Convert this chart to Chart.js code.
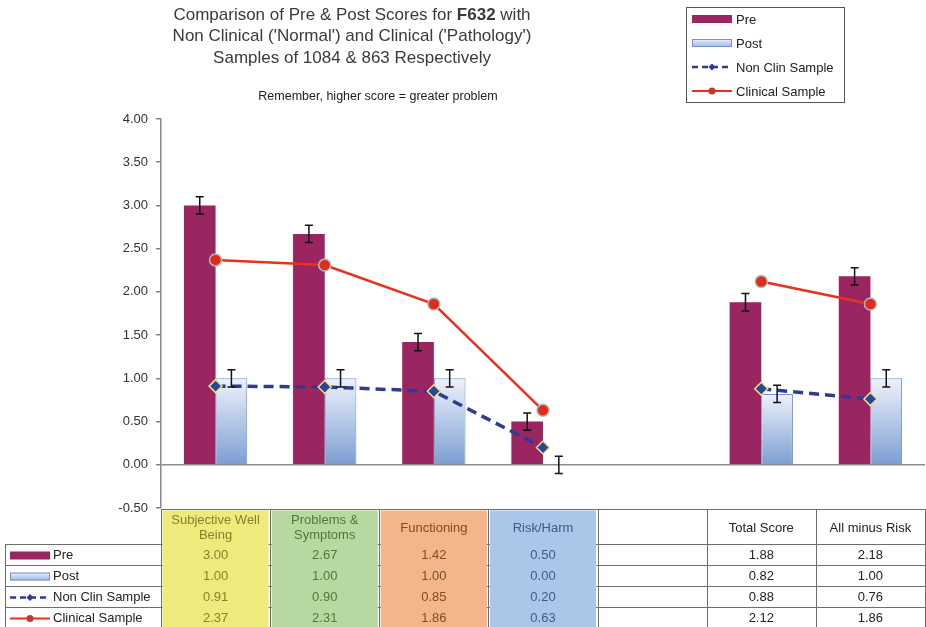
<!DOCTYPE html>
<html>
<head>
<meta charset="utf-8">
<script src="https://cdn.jsdelivr.net/npm/chart.js@4.4.1/dist/chart.umd.min.js"></script>
<style>
  html, body { margin: 0; padding: 0; background: #fff; }
  canvas { display: block; }
</style>
</head>
<body>
<canvas id="chart" width="926" height="627"></canvas>
<script>
// Chart data
const categories = ['Subjective Well Being', 'Problems & Symptoms', 'Functioning', 'Risk/Harm', '', 'Total Score', 'All minus Risk'];
const preScores = [3.00, 2.67, 1.42, 0.50, null, 1.88, 2.18];
const postScores = [1.00, 1.00, 1.00, 0.00, null, 0.82, 1.00];
const nonClinSample = [0.91, 0.90, 0.85, 0.20, null, 0.88, 0.76];
const clinicalSample = [2.37, 2.31, 1.86, 0.63, null, 2.12, 1.86];
const preErrors = [0.10, 0.10, 0.10, 0.10, null, 0.10, 0.10];
const postErrors = [0.10, 0.10, 0.10, 0.10, null, 0.10, 0.10];
const seriesNames = ['Pre', 'Post', 'Non Clin Sample', 'Clinical Sample'];
const titleLines = [
  ['Comparison of Pre & Post Scores for ', 'F632', ' with'],
  ["Non Clinical ('Normal') and Clinical ('Pathology')"],
  ['Samples of 1084 & 863 Respectively']
];
const subTitle = 'Remember, higher score = greater problem';

// Styles
const FONT = '"Liberation Sans", Arial, sans-serif';
const PRE_COLOR = '#9a2560';
const POST_BORDER = '#7393cc';
const NONCLIN_COLOR = '#2e3a94';
const CLIN_COLOR = '#e8321e';
const colFill = ['#eeeb7d', '#b7d8a1', '#f3b68a', '#aac6e9', null, null, null];
const colText = ['#85822a', '#4f7a35', '#874a1c', '#3d5c8c', '#222', '#222', '#222'];
const keyTypes = ['pre', 'post', 'nonclin', 'clin'];

function postGradient(chart, top, base) {
  const g = chart.ctx.createLinearGradient(0, top, 0, base);
  g.addColorStop(0, '#eef2fa');
  g.addColorStop(1, '#7c9ed3');
  return g;
}

// Draw a legend key (same look in the legend box and in the table)
function drawKey(ctx, type, x, y, w) {
  ctx.save();
  if (type === 'pre') {
    ctx.fillStyle = PRE_COLOR;
    ctx.fillRect(x, y - 4, w, 8);
  } else if (type === 'post') {
    const g = ctx.createLinearGradient(0, y - 4, 0, y + 4);
    g.addColorStop(0, '#e8eef9');
    g.addColorStop(1, '#9fb9e2');
    ctx.fillStyle = g;
    ctx.fillRect(x, y - 4, w, 8);
    ctx.strokeStyle = POST_BORDER;
    ctx.lineWidth = 1;
    ctx.strokeRect(x + 0.5, y - 3.5, w - 1, 7);
  } else if (type === 'nonclin') {
    ctx.strokeStyle = NONCLIN_COLOR;
    ctx.lineWidth = 2.5;
    ctx.setLineDash([6, 4]);
    ctx.beginPath();
    ctx.moveTo(x, y);
    ctx.lineTo(x + w, y);
    ctx.stroke();
    ctx.setLineDash([]);
    ctx.fillStyle = NONCLIN_COLOR;
    ctx.beginPath();
    ctx.moveTo(x + w / 2, y - 3.5);
    ctx.lineTo(x + w / 2 + 3.5, y);
    ctx.lineTo(x + w / 2, y + 3.5);
    ctx.lineTo(x + w / 2 - 3.5, y);
    ctx.closePath();
    ctx.fill();
  } else {
    ctx.strokeStyle = CLIN_COLOR;
    ctx.lineWidth = 2;
    ctx.beginPath();
    ctx.moveTo(x, y);
    ctx.lineTo(x + w, y);
    ctx.stroke();
    ctx.fillStyle = '#c0392b';
    ctx.beginPath();
    ctx.arc(x + w / 2, y, 3.5, 0, Math.PI * 2);
    ctx.fill();
  }
  ctx.restore();
}

function wrapText(ctx, text, maxW) {
  const words = text.split(' ');
  const lines = [];
  let cur = '';
  words.forEach(wd => {
    const test = cur ? cur + ' ' + wd : wd;
    if (ctx.measureText(test).width > maxW && cur) {
      lines.push(cur);
      cur = wd;
    } else {
      cur = test;
    }
  });
  if (cur) lines.push(cur);
  return lines;
}

const extras = {
  id: 'extras',
  beforeDraw(chart) {
    const ctx = chart.ctx;
    ctx.save();
    ctx.fillStyle = '#fff';
    ctx.fillRect(0, 0, chart.width, chart.height);
    ctx.restore();
  },
  afterDatasetsDraw(chart) {
    // error bars on the two bar series
    const ctx = chart.ctx;
    const y = chart.scales.y;
    const errs = [preErrors, postErrors];
    ctx.save();
    ctx.strokeStyle = '#111';
    ctx.lineWidth = 1.5;
    [0, 1].forEach(di => {
      const meta = chart.getDatasetMeta(di);
      meta.data.forEach((bar, i) => {
        const v = chart.data.datasets[di].data[i];
        const e = errs[di][i];
        if (v === null || e === null) return;
        const x = bar.x;
        const y1 = y.getPixelForValue(v + e);
        const y2 = y.getPixelForValue(v - e);
        ctx.beginPath();
        ctx.moveTo(x, y1); ctx.lineTo(x, y2);
        ctx.moveTo(x - 4, y1); ctx.lineTo(x + 4, y1);
        ctx.moveTo(x - 4, y2); ctx.lineTo(x + 4, y2);
        ctx.stroke();
      });
    });
    ctx.restore();
  },
  afterDraw(chart) {
    const ctx = chart.ctx;
    const area = chart.chartArea;
    const xs = chart.scales.x;
    ctx.save();

    // Title with bold chart code
    ctx.fillStyle = '#3a3a3a';
    ctx.textBaseline = 'middle';
    titleLines.forEach((parts, li) => {
      const fonts = parts.map((p, pi) => (pi === 1 ? 'bold ' : '') + '17px ' + FONT);
      let total = 0;
      parts.forEach((p, pi) => { ctx.font = fonts[pi]; total += ctx.measureText(p).width; });
      let x = 352 - total / 2;
      parts.forEach((p, pi) => {
        ctx.font = fonts[pi];
        ctx.textAlign = 'left';
        ctx.fillText(p, x, 15 + li * 21.5);
        x += ctx.measureText(p).width;
      });
    });
    ctx.font = '12.5px ' + FONT;
    ctx.fillStyle = '#222';
    ctx.textAlign = 'center';
    ctx.fillText(subTitle, 378, 97);

    // Legend box
    ctx.strokeStyle = '#555';
    ctx.lineWidth = 1;
    ctx.strokeRect(686.5, 7.5, 158, 95);
    ctx.font = '13px ' + FONT;
    ctx.fillStyle = '#222';
    ctx.textAlign = 'left';
    seriesNames.forEach((name, i) => {
      const yy = 19 + i * 24;
      drawKey(ctx, keyTypes[i], 692, yy, 40);
      ctx.fillText(name, 736, yy + 1);
    });

    // Data table under the plot
    const n = categories.length;
    const catW = (area.right - area.left) / n;
    const top = area.bottom + 1;
    const headBottom = top + 35;
    const rowH = 21;
    const bottom = headBottom + rowH * 4;
    const colLeft = i => xs.getPixelForValue(i) - catW / 2;

    ctx.strokeStyle = '#6e6e6e';
    ctx.lineWidth = 1;
    ctx.beginPath();
    ctx.moveTo(area.left, top + 0.5); ctx.lineTo(area.right, top + 0.5);
    for (let r = 0; r <= 3; r++) {
      const yy = Math.round(headBottom + r * rowH) + 0.5;
      ctx.moveTo(5, yy); ctx.lineTo(area.right, yy);
    }
    ctx.stroke();

    colFill.forEach((c, i) => {
      if (!c) return;
      ctx.fillStyle = c;
      ctx.fillRect(colLeft(i) + 1.5, top + 1.5, catW - 3, bottom - top);
    });

    ctx.beginPath();
    ctx.moveTo(5.5, headBottom); ctx.lineTo(5.5, bottom);
    for (let i = 0; i <= n; i++) {
      const xx = Math.round(area.left + i * catW) + 0.5;
      ctx.moveTo(xx, top); ctx.lineTo(xx, bottom);
    }
    ctx.stroke();

    // header labels
    ctx.textAlign = 'center';
    ctx.font = '13px ' + FONT;
    categories.forEach((cat, i) => {
      if (!cat) return;
      const cx = xs.getPixelForValue(i);
      const lines = wrapText(ctx, cat, catW - 10);
      ctx.fillStyle = colText[i];
      const cy = (top + headBottom) / 2 + 1.5;
      lines.forEach((ln, li) => {
        ctx.fillText(ln, cx, cy + (li - (lines.length - 1) / 2) * 15);
      });
    });

    // rows
    chart.data.datasets.forEach((ds, r) => {
      const cy = headBottom + r * rowH + rowH / 2 + 1;
      drawKey(ctx, keyTypes[r], 10, cy, 40);
      ctx.fillStyle = '#222';
      ctx.textAlign = 'left';
      ctx.font = '13px ' + FONT;
      ctx.fillText(ds.label, 53, cy);
      ctx.textAlign = 'center';
      ctx.font = '13px ' + FONT;
      ds.data.forEach((v, i) => {
        if (v === null) return;
        ctx.fillStyle = colText[i];
        ctx.fillText(v.toFixed(2), xs.getPixelForValue(i), cy);
      });
    });

    ctx.restore();
  }
};

new Chart(document.getElementById('chart'), {
  type: 'bar',
  data: {
    labels: categories,
    datasets: [
      {
        label: seriesNames[0],
        data: preScores,
        backgroundColor: PRE_COLOR,
        borderWidth: 0,
        order: 2,
        categoryPercentage: 0.58,
        barPercentage: 1.0
      },
      {
        label: seriesNames[1],
        data: postScores,
        backgroundColor: (c) => {
          const chart = c.chart;
          if (!chart.chartArea || c.raw === undefined || c.raw === null) return '#b0c4e8';
          const y = chart.scales.y;
          const t = y.getPixelForValue(c.raw);
          const b = y.getPixelForValue(0);
          if (b - t < 1) return '#b0c4e8';
          return postGradient(chart, t, b);
        },
        borderColor: POST_BORDER,
        borderWidth: 1,
        order: 2,
        categoryPercentage: 0.58,
        barPercentage: 1.0
      },
      {
        type: 'line',
        label: seriesNames[2],
        data: nonClinSample,
        borderColor: NONCLIN_COLOR,
        borderWidth: 3.5,
        borderDash: [10, 6],
        pointStyle: 'rectRot',
        pointRadius: 6.5,
        pointBackgroundColor: '#26489a',
        pointBorderColor: '#efe08c',
        pointBorderWidth: 1.5,
        spanGaps: false,
        order: 1
      },
      {
        type: 'line',
        label: seriesNames[3],
        data: clinicalSample,
        borderColor: CLIN_COLOR,
        borderWidth: 2.5,
        pointStyle: 'circle',
        pointRadius: 6,
        pointBackgroundColor: '#e42a1c',
        pointBorderColor: '#9fc4bc',
        pointBorderWidth: 1.5,
        spanGaps: false,
        order: 0
      }
    ]
  },
  options: {
    responsive: false,
    animation: false,
    layout: { autoPadding: false, padding: { top: 119, right: 1, bottom: 119, left: 0 } },
    plugins: {
      legend: { display: false },
      title: { display: false },
      tooltip: { enabled: false }
    },
    scales: {
      x: {
        display: false
      },
      y: {
        min: -0.5,
        max: 4,
        afterFit: (s) => { s.width = 161; },
        ticks: {
          stepSize: 0.5,
          padding: 8,
          color: '#333',
          font: { family: FONT, size: 13 },
          callback: (v) => Number(v).toFixed(2)
        },
        grid: {
          color: (c) => (c.tick && c.tick.value === 0 ? '#8c8c8c' : 'rgba(0,0,0,0)'),
          lineWidth: 1.5,
          tickColor: '#808080',
          tickLength: 5
        },
        border: { display: true, color: '#888', width: 1.5 }
      }
    }
  },
  plugins: [extras]
});
</script>
</body>
</html>
